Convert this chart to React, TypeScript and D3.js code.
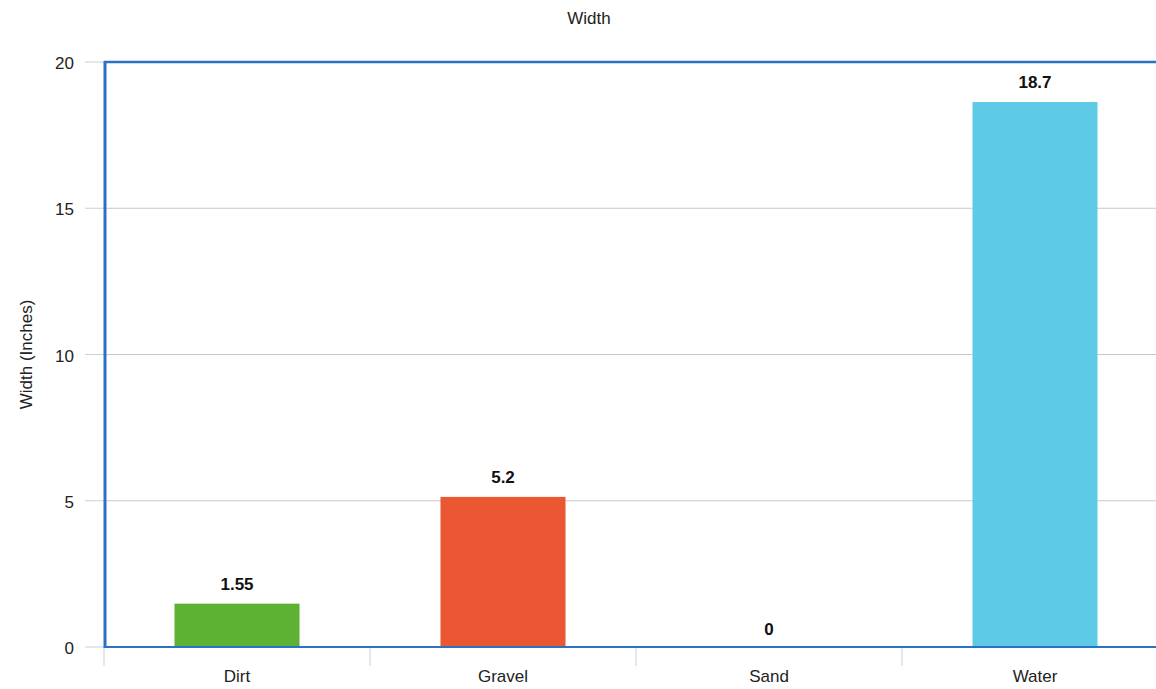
import React, { useRef, useEffect } from "react";
import * as d3 from "d3";

const categories = ["Dirt", "Gravel", "Sand", "Water"];
const values = [1.55, 5.2, 0, 18.7];
const barColors = ["#5db234", "#eb5733", "#5dcbe6", "#5dcbe6"];
const yTicks = [0, 5, 10, 15, 20];

const App = () => {
  const svgRef = useRef<SVGSVGElement>(null);

  useEffect(() => {
    const width = 1156;
    const height = 689;
    const margin = { top: 62, left: 104, bottom: 42 };
    const plotRight = 1168;
    const svg = d3.select(svgRef.current).attr("width", width).attr("height", height);
    svg.selectAll("*").remove();

    const font = "'Liberation Sans', Arial, sans-serif";
    const fs = "17px";
    const x = d3
      .scaleBand()
      .domain(categories)
      .range([margin.left, plotRight])
      .paddingInner(0.53)
      .paddingOuter(0.265);
    const y = d3.scaleLinear().domain([0, 20]).range([height - margin.bottom, margin.top]);
    const y0 = y(0);

    // title
    svg
      .append("text")
      .attr("x", 589)
      .attr("y", 24)
      .attr("text-anchor", "middle")
      .attr("font-family", font)
      .attr("font-size", fs)
      .attr("fill", "#222")
      .text("Width");

    // gridlines
    svg
      .selectAll(".grid")
      .data(yTicks.slice(1, -1))
      .join("line")
      .attr("x1", margin.left)
      .attr("x2", plotRight)
      .attr("y1", (d) => y(d))
      .attr("y2", (d) => y(d))
      .attr("stroke", "#c8c8c8")
      .attr("stroke-width", 1);

    // y tick marks
    svg
      .selectAll(".ytick")
      .data(yTicks)
      .join("line")
      .attr("x1", 85)
      .attr("x2", margin.left)
      .attr("y1", (d) => y(d))
      .attr("y2", (d) => y(d))
      .attr("stroke", "#c3d2e0")
      .attr("stroke-width", 1);

    // y tick labels
    svg
      .selectAll(".ylabel")
      .data(yTicks)
      .join("text")
      .attr("x", 74)
      .attr("y", (d) => y(d) + 7)
      .attr("text-anchor", "end")
      .attr("font-family", font)
      .attr("font-size", fs)
      .attr("fill", "#222")
      .text((d) => d);

    // y axis title
    svg
      .append("text")
      .attr("transform", `translate(32, ${(y(0) + y(20)) / 2}) rotate(-90)`)
      .attr("text-anchor", "middle")
      .attr("font-family", font)
      .attr("font-size", fs)
      .attr("fill", "#222")
      .text("Width (Inches)");

    // bars (top edge sits ~2px under the value, as in the original)
    svg
      .selectAll(".bar")
      .data(values)
      .join("rect")
      .attr("x", (d, i) => x(categories[i]))
      .attr("y", (d) => Math.min(y(d) + 2, y0))
      .attr("width", x.bandwidth())
      .attr("height", (d) => Math.max(y0 - y(d) - 2, 0))
      .attr("fill", (d, i) => barColors[i]);

    // value labels
    svg
      .selectAll(".vlabel")
      .data(values)
      .join("text")
      .attr("x", (d, i) => x(categories[i]) + x.bandwidth() / 2)
      .attr("y", (d) => y(d) - 12)
      .attr("text-anchor", "middle")
      .attr("font-family", font)
      .attr("font-size", fs)
      .attr("font-weight", "bold")
      .attr("fill", "#111")
      .text((d) => d);

    // x tick marks at band boundaries
    const step = x.step();
    const bounds = d3.range(categories.length + 1).map((i) => margin.left + i * step);
    svg
      .selectAll(".xtick")
      .data(bounds)
      .join("line")
      .attr("x1", (d) => d)
      .attr("x2", (d) => d)
      .attr("y1", y0)
      .attr("y2", y0 + 19)
      .attr("stroke", "#c3d2e0")
      .attr("stroke-width", 1);

    // x labels
    svg
      .selectAll(".xlabel")
      .data(categories)
      .join("text")
      .attr("x", (d) => x(d) + x.bandwidth() / 2)
      .attr("y", y0 + 35)
      .attr("text-anchor", "middle")
      .attr("font-family", font)
      .attr("font-size", fs)
      .attr("fill", "#222")
      .text((d) => d);

    // plot borders
    svg
      .append("line")
      .attr("x1", margin.left)
      .attr("x2", plotRight)
      .attr("y1", margin.top)
      .attr("y2", margin.top)
      .attr("stroke", "#2a72c6")
      .attr("stroke-width", 2.5);
    svg
      .append("line")
      .attr("x1", margin.left)
      .attr("x2", plotRight)
      .attr("y1", y0)
      .attr("y2", y0)
      .attr("stroke", "#2a72c6")
      .attr("stroke-width", 2);
    svg
      .append("line")
      .attr("x1", margin.left + 1)
      .attr("x2", margin.left + 1)
      .attr("y1", margin.top - 1)
      .attr("y2", y0 + 1)
      .attr("stroke", "#2a72c6")
      .attr("stroke-width", 3);
  }, []);

  return (
    <div style={{ position: "absolute", left: 0, top: 0 }}>
      <svg ref={svgRef} style={{ display: "block" }}></svg>
    </div>
  );
};

export default App;
